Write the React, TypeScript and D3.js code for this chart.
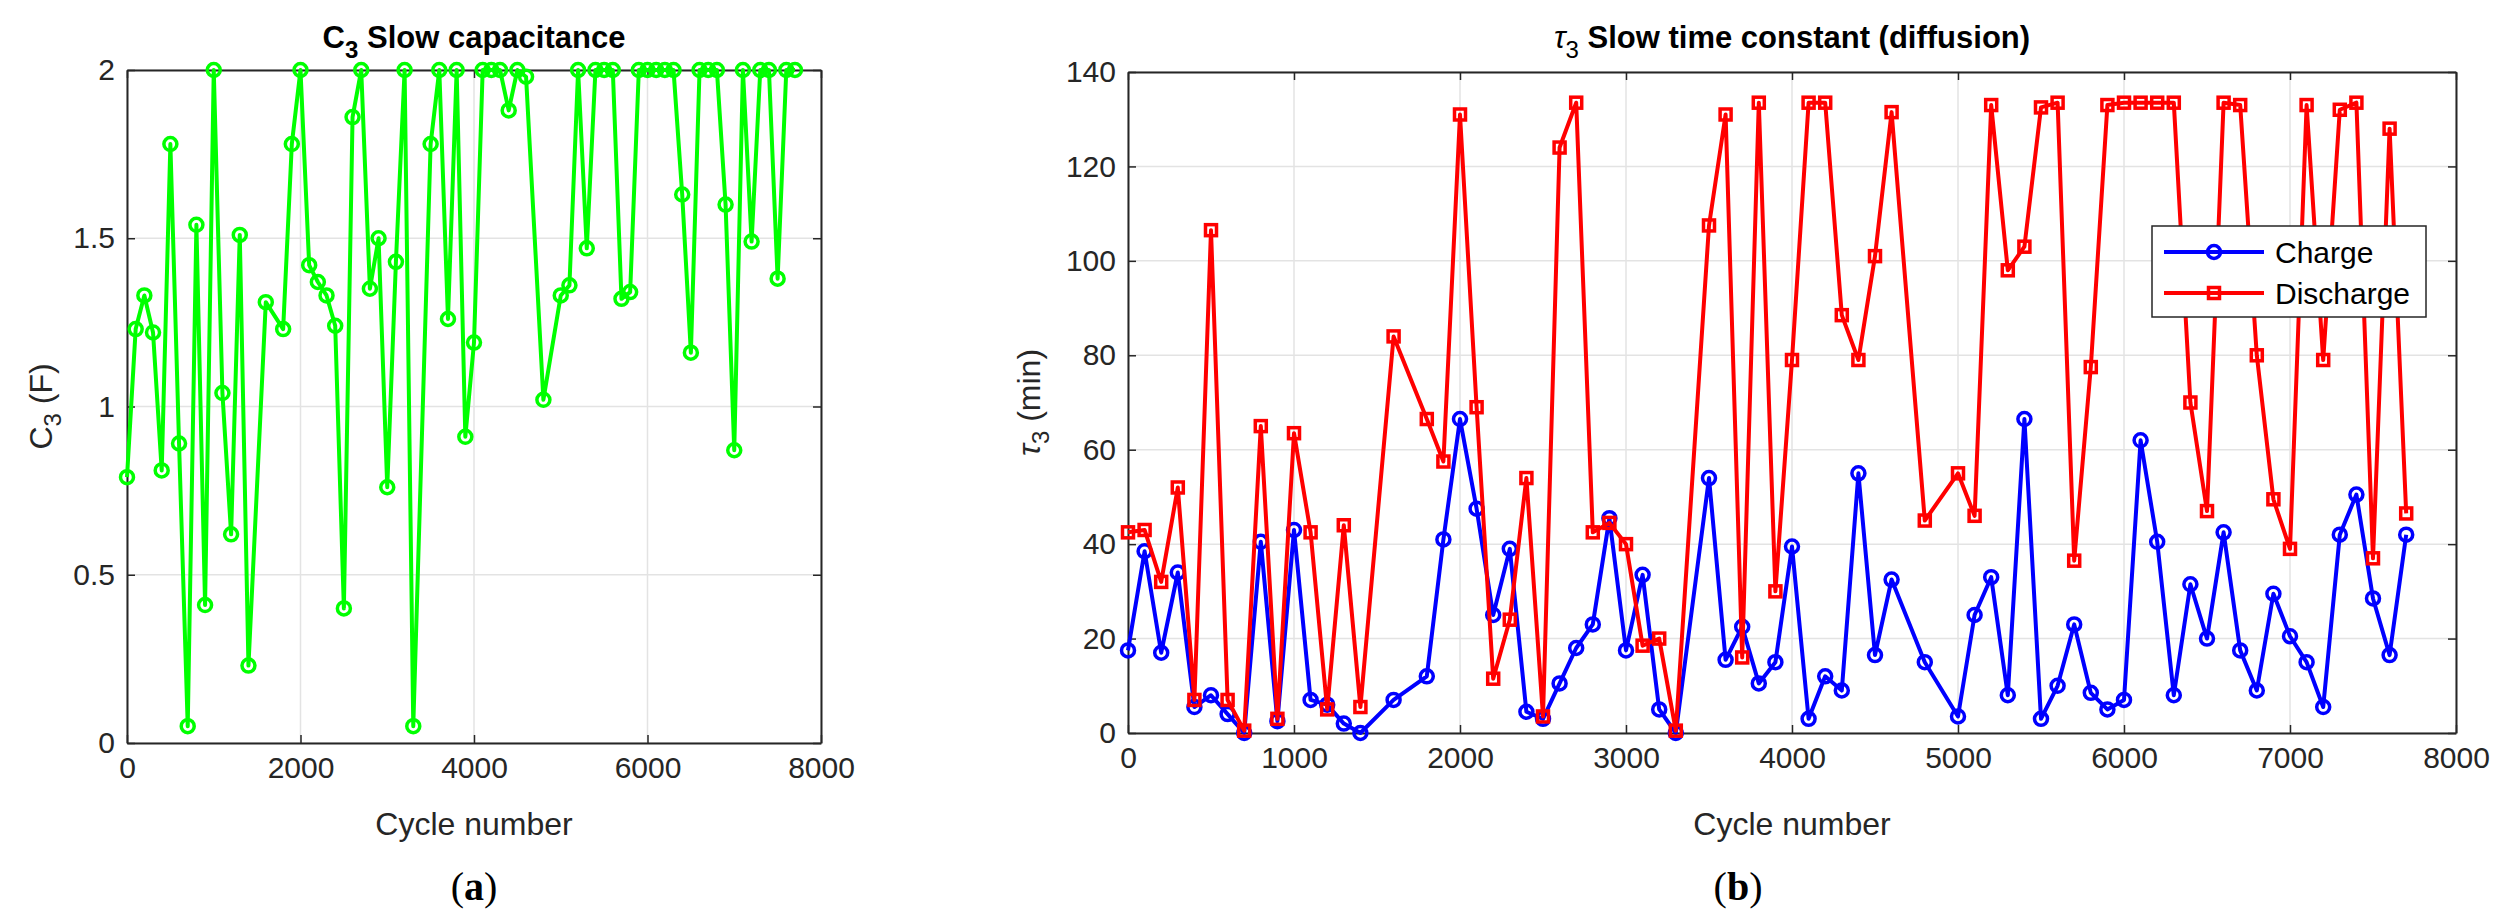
import { useEffect, useRef } from 'react';
import * as d3 from 'd3';

// C3 slow capacitance (F) vs cycle number
const c3Cycles = [0, 100, 200, 300, 400, 500, 600, 700, 800, 900, 1000, 1100, 1200, 1300, 1400, 1600, 1800, 1900, 2000, 2100, 2200, 2300, 2400, 2500, 2600, 2700, 2800, 2900, 3000, 3100, 3200, 3300, 3500, 3600, 3700, 3800, 3900, 4000, 4100, 4200, 4300, 4400, 4500, 4600, 4800, 5000, 5100, 5200, 5300, 5400, 5500, 5600, 5700, 5800, 5900, 6000, 6100, 6200, 6300, 6400, 6500, 6600, 6700, 6800, 6900, 7000, 7100, 7200, 7300, 7400, 7500, 7600, 7700];
const c3Values = [0.79, 1.23, 1.33, 1.22, 0.81, 1.78, 0.89, 0.05, 1.54, 0.41, 2, 1.04, 0.62, 1.51, 0.23, 1.31, 1.23, 1.78, 2, 1.42, 1.37, 1.33, 1.24, 0.4, 1.86, 2, 1.35, 1.5, 0.76, 1.43, 2, 0.05, 1.78, 2, 1.26, 2, 0.91, 1.19, 2, 2, 2, 1.88, 2, 1.98, 1.02, 1.33, 1.36, 2, 1.47, 2, 2, 2, 1.32, 1.34, 2, 2, 2, 2, 2, 1.63, 1.16, 2, 2, 2, 1.6, 0.87, 2, 1.49, 2, 2, 1.38, 2, 2];

// tau3 slow time constant (min)
const chargeCycles = [0, 100, 200, 300, 400, 500, 600, 700, 800, 900, 1000, 1100, 1200, 1300, 1400, 1600, 1800, 1900, 2000, 2100, 2200, 2300, 2400, 2500, 2600, 2700, 2800, 2900, 3000, 3100, 3200, 3300, 3500, 3600, 3700, 3800, 3900, 4000, 4100, 4200, 4300, 4400, 4500, 4600, 4800, 5000, 5100, 5200, 5300, 5400, 5500, 5600, 5700, 5800, 5900, 6000, 6100, 6200, 6300, 6400, 6500, 6600, 6700, 6800, 6900, 7000, 7100, 7200, 7300, 7400, 7500, 7600, 7700];
const chargeValues = [17.5, 38.5, 17, 34, 5.5, 8, 4, 0, 40.5, 2.5, 43, 7, 6, 2, 0, 7, 12, 41, 66.5, 47.5, 25, 39, 4.5, 3, 10.5, 18, 23, 45.5, 17.5, 33.5, 5, 0, 54, 15.5, 22.5, 10.5, 15, 39.5, 3, 12, 9, 55, 16.5, 32.5, 15, 3.5, 25, 33, 8, 66.5, 3, 10, 23, 8.5, 5, 7, 62, 40.5, 8, 31.5, 20, 42.5, 17.5, 9, 29.5, 20.5, 15, 5.5, 42, 50.5, 28.5, 16.5, 42];
const dischargeCycles = [0, 100, 200, 300, 400, 500, 600, 700, 800, 900, 1000, 1100, 1200, 1300, 1400, 1600, 1800, 1900, 2000, 2100, 2200, 2300, 2400, 2500, 2600, 2700, 2800, 2900, 3000, 3100, 3200, 3300, 3500, 3600, 3700, 3800, 3900, 4000, 4100, 4200, 4300, 4400, 4500, 4600, 4800, 5000, 5100, 5200, 5300, 5400, 5500, 5600, 5700, 5800, 5900, 6000, 6100, 6200, 6300, 6400, 6500, 6600, 6700, 6800, 6900, 7000, 7100, 7200, 7300, 7400, 7500, 7600, 7700];
const dischargeValues = [42.5, 43, 32, 52, 7, 106.5, 7, 0.5, 65, 3, 63.5, 42.5, 5, 44, 5.5, 84, 66.5, 57.5, 131, 69, 11.5, 24, 54, 3.5, 124, 133.5, 42.5, 44.5, 40, 18.5, 20, 0.5, 107.5, 131, 16, 133.5, 30, 79, 133.5, 133.5, 88.5, 79, 101, 131.5, 45, 55, 46, 133, 98, 103, 132.5, 133.5, 36.5, 77.5, 133, 133.5, 133.5, 133.5, 133.5, 70, 47, 133.5, 133, 80, 49.5, 39, 133, 79, 132, 133.5, 37, 128, 46.5];

const leftXTicks = [0, 2000, 4000, 6000, 8000];
const leftYTicks = [0, 0.5, 1, 1.5, 2];
const rightXTicks = [0, 1000, 2000, 3000, 4000, 5000, 6000, 7000, 8000];
const rightYTicks = [0, 20, 40, 60, 80, 100, 120, 140];

const FONT = '"Liberation Sans", Arial, sans-serif';
const AXIS = '#262626';
const GRID = '#e3e3e3';

type Series = { xs: number[]; ys: number[]; color: string; marker: 'circle' | 'square' };

function drawPanel(
  svg: d3.Selection<SVGSVGElement, unknown, null, undefined>,
  box: { x0: number; x1: number; y0: number; y1: number },
  xDomain: [number, number], yDomain: [number, number],
  xTicks: number[], yTicks: number[], series: Series[]
) {
  const x = d3.scaleLinear().domain(xDomain).range([box.x0, box.x1]);
  const y = d3.scaleLinear().domain(yDomain).range([box.y1, box.y0]);
  const g = svg.append('g');
  const plain = (d: d3.NumberValue) => String(d);

  // grid
  g.selectAll('.gx').data(xTicks).enter().append('line')
    .attr('x1', d => x(d)).attr('x2', d => x(d)).attr('y1', box.y0).attr('y2', box.y1)
    .attr('stroke', GRID).attr('stroke-width', 1.5);
  g.selectAll('.gy').data(yTicks).enter().append('line')
    .attr('x1', box.x0).attr('x2', box.x1).attr('y1', d => y(d)).attr('y2', d => y(d))
    .attr('stroke', GRID).attr('stroke-width', 1.5);

  // axes box with inward ticks
  const bottom = d3.axisBottom(x).tickValues(xTicks).tickFormat(plain).tickSizeInner(-8).tickSizeOuter(0).tickPadding(14);
  const left = d3.axisLeft(y).tickValues(yTicks).tickFormat(plain).tickSizeInner(-8).tickSizeOuter(0).tickPadding(12);
  const top = d3.axisTop(x).tickValues(xTicks).tickSizeInner(-8).tickSizeOuter(0).tickFormat(() => '');
  const right = d3.axisRight(y).tickValues(yTicks).tickSizeInner(-8).tickSizeOuter(0).tickFormat(() => '');
  const styleAxis = (a: d3.Selection<SVGGElement, unknown, null, undefined>) => {
    a.select('.domain').attr('stroke', AXIS).attr('stroke-width', 2);
    a.selectAll('.tick line').attr('stroke', AXIS).attr('stroke-width', 1.5);
    a.selectAll('.tick text').attr('fill', AXIS).style('font-family', FONT).style('font-size', '30px');
  };
  styleAxis(g.append('g').attr('transform', `translate(0,${box.y1})`).call(bottom));
  styleAxis(g.append('g').attr('transform', `translate(${box.x0},0)`).call(left));
  styleAxis(g.append('g').attr('transform', `translate(0,${box.y0})`).call(top));
  styleAxis(g.append('g').attr('transform', `translate(${box.x1},0)`).call(right));

  series.forEach(s => {
    const pts = s.xs.map((c, i) => [c, s.ys[i]] as [number, number]);
    const line = d3.line<[number, number]>().x(d => x(d[0])).y(d => y(d[1]));
    g.append('path').attr('d', line(pts)).attr('fill', 'none')
      .attr('stroke', s.color).attr('stroke-width', 4).attr('stroke-linejoin', 'round');
    if (s.marker === 'circle') {
      g.selectAll(null).data(pts).enter().append('circle')
        .attr('cx', d => x(d[0])).attr('cy', d => y(d[1])).attr('r', 6.5)
        .attr('fill', 'none').attr('stroke', s.color).attr('stroke-width', 3.5);
    } else {
      g.selectAll(null).data(pts).enter().append('rect')
        .attr('x', d => x(d[0]) - 5.5).attr('y', d => y(d[1]) - 5.5)
        .attr('width', 11).attr('height', 11)
        .attr('fill', 'none').attr('stroke', s.color).attr('stroke-width', 3.5);
    }
  });
  return { x, y };
}

export default function App() {
  const svgRef = useRef<SVGSVGElement>(null);

  useEffect(() => {
    const svg = d3.select(svgRef.current!);
    svg.selectAll('*').remove();
    svg.append('rect').attr('width', 2503).attr('height', 919).attr('fill', 'white');

    const lb = { x0: 127, x1: 821, y0: 70, y1: 743 };
    drawPanel(svg, lb, [0, 8000], [0, 2], leftXTicks, leftYTicks,
      [{ xs: c3Cycles, ys: c3Values, color: '#00ff00', marker: 'circle' }]);

    const rb = { x0: 1128, x1: 2456, y0: 72, y1: 733 };
    drawPanel(svg, rb, [0, 8000], [0, 140], rightXTicks, rightYTicks, [
      { xs: chargeCycles, ys: chargeValues, color: '#0000ff', marker: 'circle' },
      { xs: dischargeCycles, ys: dischargeValues, color: '#ff0000', marker: 'square' },
    ]);

    const txt = (x: number, y: number, size: number, weight = 'normal') =>
      svg.append('text').attr('x', x).attr('y', y).attr('text-anchor', 'middle')
        .style('font-family', FONT).style('font-size', `${size}px`).style('font-weight', weight).attr('fill', '#000');

    // titles
    const t1 = txt((lb.x0 + lb.x1) / 2, 48, 31, 'bold');
    t1.append('tspan').text('C');
    t1.append('tspan').attr('dy', 10).style('font-size', '24px').text('3');
    t1.append('tspan').attr('dy', -10).text(' Slow capacitance');
    const t2 = txt((rb.x0 + rb.x1) / 2, 48, 31, 'bold');
    t2.append('tspan').style('font-style', 'italic').style('font-weight', 'normal').text('τ');
    t2.append('tspan').attr('dy', 10).style('font-size', '24px').style('font-weight', 'normal').text('3');
    t2.append('tspan').attr('dy', -10).text(' Slow time constant (diffusion)');

    // x labels
    txt((lb.x0 + lb.x1) / 2, 835, 32).attr('fill', AXIS).text('Cycle number');
    txt((rb.x0 + rb.x1) / 2, 835, 32).attr('fill', AXIS).text('Cycle number');

    // y labels
    const y1 = svg.append('text').attr('transform', `translate(52,${(lb.y0 + lb.y1) / 2}) rotate(-90)`)
      .attr('text-anchor', 'middle').style('font-family', FONT).style('font-size', '32px').attr('fill', AXIS);
    y1.append('tspan').text('C');
    y1.append('tspan').attr('dy', 9).style('font-size', '24px').text('3');
    y1.append('tspan').attr('dy', -9).text(' (F)');
    const y2 = svg.append('text').attr('transform', `translate(1040,${(rb.y0 + rb.y1) / 2}) rotate(-90)`)
      .attr('text-anchor', 'middle').style('font-family', FONT).style('font-size', '32px').attr('fill', AXIS);
    y2.append('tspan').style('font-style', 'italic').text('τ');
    y2.append('tspan').attr('dy', 9).style('font-size', '24px').text('3');
    y2.append('tspan').attr('dy', -9).text(' (min)');

    // panel letters
    const pa = txt((lb.x0 + lb.x1) / 2, 900, 40).style('font-family', '"Liberation Serif", serif');
    pa.append('tspan').text('(');
    pa.append('tspan').style('font-weight', 'bold').text('a');
    pa.append('tspan').text(')');
    const pb = txt(1738, 900, 40).style('font-family', '"Liberation Serif", serif');
    pb.append('tspan').text('(');
    pb.append('tspan').style('font-weight', 'bold').text('b');
    pb.append('tspan').text(')');

    // legend
    const lg = svg.append('g').attr('transform', 'translate(2152,226)');
    lg.append('rect').attr('width', 274).attr('height', 91).attr('fill', 'white')
      .attr('stroke', AXIS).attr('stroke-width', 1.5);
    const entries = [
      { label: 'Charge', color: '#0000ff', marker: 'circle' },
      { label: 'Discharge', color: '#ff0000', marker: 'square' },
    ];
    entries.forEach((e, i) => {
      const cy = 26 + i * 41;
      lg.append('line').attr('x1', 12).attr('x2', 112).attr('y1', cy).attr('y2', cy)
        .attr('stroke', e.color).attr('stroke-width', 4);
      if (e.marker === 'circle') {
        lg.append('circle').attr('cx', 62).attr('cy', cy).attr('r', 6.5).attr('fill', 'none')
          .attr('stroke', e.color).attr('stroke-width', 3.5);
      } else {
        lg.append('rect').attr('x', 56.5).attr('y', cy - 5.5).attr('width', 11).attr('height', 11)
          .attr('fill', 'none').attr('stroke', e.color).attr('stroke-width', 3.5);
      }
      lg.append('text').attr('x', 123).attr('y', cy + 11).style('font-family', FONT)
        .style('font-size', '30px').attr('fill', '#000').text(e.label);
    });
  }, []);

  return (
    <svg ref={svgRef} width={2503} height={919}
      style={{ position: 'absolute', left: 0, top: 0 }} />
  );
}
